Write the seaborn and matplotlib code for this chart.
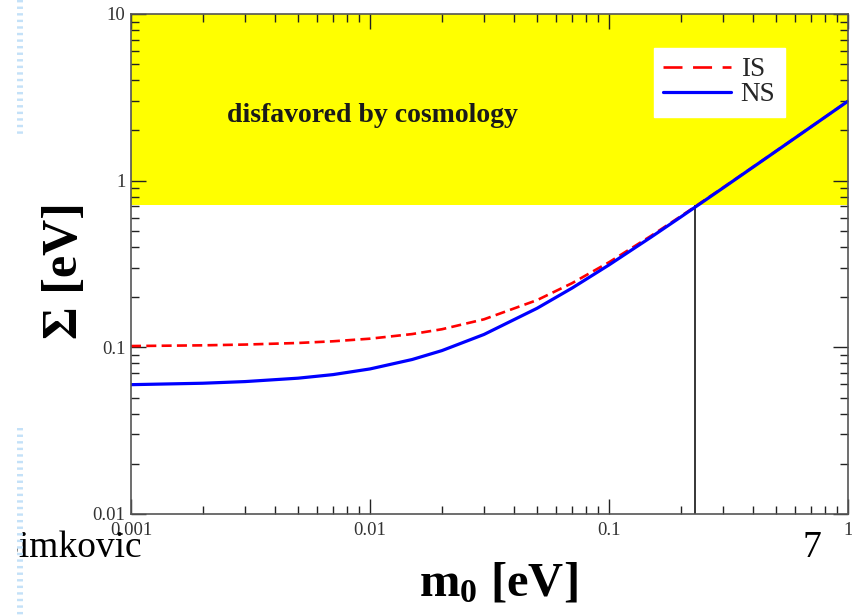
import matplotlib
matplotlib.use("Agg")
import matplotlib.pyplot as plt
import matplotlib.ticker as mticker
from matplotlib.lines import Line2D
from matplotlib.patches import Rectangle
import seaborn as sns
import pandas as pd

# ---- data ----
m0 = [0.001, 0.002, 0.003, 0.005, 0.007, 0.01, 0.015, 0.02, 0.03, 0.05,
      0.07, 0.1, 0.15, 0.2, 0.3, 0.5, 0.7, 1.0]
sigma_ns = [0.0597, 0.0609, 0.0623, 0.0653, 0.0686, 0.0742, 0.0845, 0.0956,
            0.1195, 0.1715, 0.2266, 0.3122, 0.4584, 0.6063, 0.9043, 1.5026,
            2.1018, 3.0013]
sigma_is = [0.1018, 0.1028, 0.1039, 0.1062, 0.1087, 0.1127, 0.1201, 0.1284,
            0.1473, 0.1920, 0.2425, 0.3239, 0.4665, 0.6125, 0.9084, 1.5051,
            2.1036, 3.0025]
series_labels = ["IS", "NS"]
cosmo_limit = 0.71      # Sigma bound (bottom of yellow band)
cosmo_m0 = 0.23         # m0 where NS reaches the bound
x_ticks = [0.001, 0.01, 0.1, 1]
y_ticks = [0.01, 0.1, 1, 10]
band_text = "disfavored by cosmology"

sns.set_theme(style="ticks")
plt.rcParams["font.family"] = ["Liberation Serif", "DejaVu Serif"]
plt.rcParams["mathtext.fontset"] = "custom"
plt.rcParams["mathtext.rm"] = "Liberation Serif:bold"
plt.rcParams["mathtext.it"] = "Liberation Serif:bold"
plt.rcParams["mathtext.bf"] = "Liberation Serif:bold"
plt.rcParams["lines.scale_dashes"] = True

W, H = 853, 616
fig = plt.figure(figsize=(W / 100, H / 100), dpi=100)
fig.patch.set_facecolor("white")
ax = fig.add_axes([131 / W, 1 - 514 / H, (848 - 131) / W, (514 - 14) / H])
ax.set_facecolor("white")

ax.set_xscale("log")
ax.set_yscale("log")
ax.set_xlim(0.001, 1)
ax.set_ylim(0.01, 10)

ax.axhspan(cosmo_limit, 10, color="#ffff00", zorder=0, lw=0)
ax.vlines(cosmo_m0, 0.01, cosmo_limit, color="black", lw=1.1, zorder=1)

df_is = pd.DataFrame({"m0": m0, "sigma": sigma_is})
df_ns = pd.DataFrame({"m0": m0, "sigma": sigma_ns})
sns.lineplot(data=df_is, x="m0", y="sigma", ax=ax, color="#ff0000",
             lw=1.9, linestyle=(0, (3.8, 2.0)), zorder=3)
sns.lineplot(data=df_ns, x="m0", y="sigma", ax=ax, color="#0000ff",
             lw=2.3, zorder=4)

# ticks
ax.set_xticks(x_ticks)
ax.set_yticks(y_ticks)
fmt = mticker.FuncFormatter(lambda v, _: f"{v:g}")
ax.xaxis.set_major_formatter(fmt)
ax.yaxis.set_major_formatter(fmt)
ax.xaxis.set_minor_formatter(mticker.NullFormatter())
ax.yaxis.set_minor_formatter(mticker.NullFormatter())
ax.tick_params(which="both", direction="in", top=True, right=True,
               color="#222222", width=1.0)
ax.tick_params(which="major", length=11)
ax.tick_params(which="minor", length=5.5)
ax.tick_params(axis="y", which="major", labelsize=13.5, pad=4,
               labelcolor="#333333")
ax.tick_params(axis="x", which="major", labelsize=13.5, pad=6,
               labelcolor="#333333")
for s in ax.spines.values():
    s.set_color("#555555")
    s.set_linewidth(1.2)
    s.set_zorder(5)

ax.set_xlabel("m$_0$ [eV]", fontsize=35, fontweight="bold", color="black")
ax.set_ylabel("Σ [eV]", fontsize=36, fontweight="bold", color="black")
ax.xaxis.set_label_coords((498 - 131) / 717, (514 - 562) / 500)
ax.yaxis.set_label_coords((88 - 131) / 717, (514 - 271) / 500)

ax.text((372 - 131) / 717, (514 - 115) / 500, band_text,
        transform=ax.transAxes, ha="center", va="center",
        fontsize=20, fontweight="bold", color="#1a1a1a", zorder=6)

# legend
handles = [
    Line2D([], [], color="#ff0000", lw=1.9, linestyle=(0, (7.2, 4.0))),
    Line2D([], [], color="#0000ff", lw=2.3),
]
leg = ax.legend(handles, series_labels, loc="upper left",
                bbox_to_anchor=((654 - 131) / 717, (514 - 48) / 500),
                frameon=True, fancybox=False, framealpha=1,
                facecolor="white", edgecolor="white",
                fontsize=19.5, handlelength=2.5, handletextpad=0.35,
                labelspacing=0.0, borderpad=0.35, borderaxespad=0)
leg.set_zorder(7)

# slide decorations
fig.text(-2 / W, 1 - 557 / H, "Šimkovic", fontsize=27, ha="left",
         va="baseline", color="black", zorder=3)
fig.text(803 / W, 1 - 557 / H, "7", fontsize=27, ha="left",
         va="baseline", color="black", zorder=3)
fig.add_artist(Rectangle((0, 0), 17 / W, 1, transform=fig.transFigure,
                         facecolor="white", edgecolor="none", zorder=4))
for y0, y1 in [(0, 137), (428, 616)]:
    ln = Line2D([20 / W, 20 / W], [1 - y0 / H, 1 - y1 / H],
                transform=fig.transFigure, color="#c4e1f8", lw=4.3,
                zorder=5, solid_capstyle="butt", dash_capstyle="butt")
    ln.set_dashes((0.4, 0.7))
    fig.add_artist(ln)

fig.savefig("out.png", dpi=100)
